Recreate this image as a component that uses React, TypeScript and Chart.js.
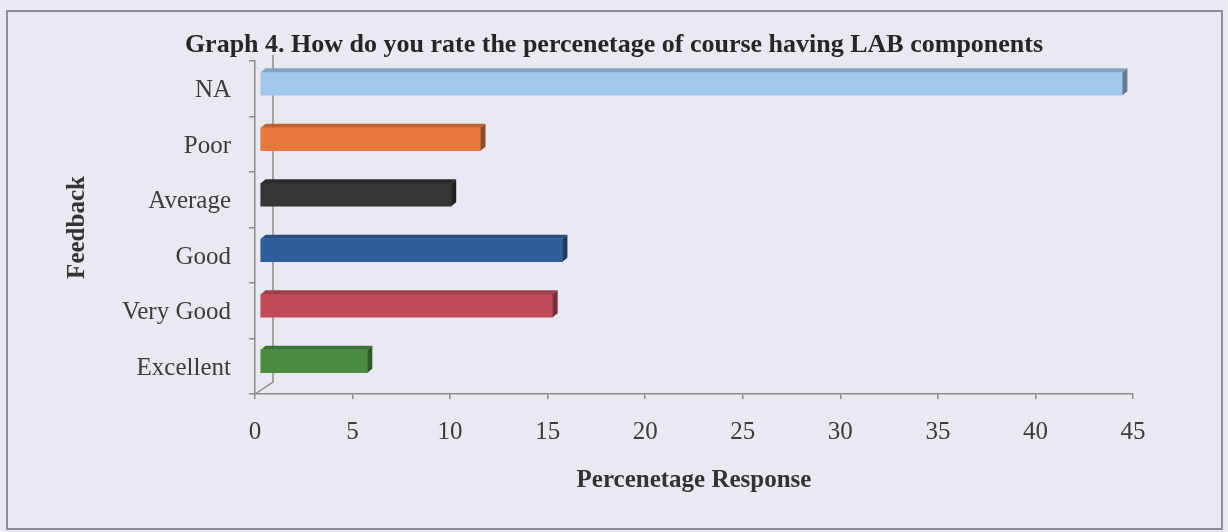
import React, { useEffect, useRef } from "react";
import { Chart, registerables } from "chart.js";

Chart.register(...registerables);

const categories = ["NA", "Poor", "Average", "Good", "Very Good", "Excellent"];
const responses = [44.2, 11.3, 9.8, 15.5, 15.0, 5.5];
const barColors = ["#a1c8ea", "#e9773e", "#363636", "#2f5d9b", "#c24b59", "#4b8c40"];
const xMin = 0;
const xMax = 45;
const xStep = 5;

const chartTitle = "Graph 4. How do you rate the percenetage of course having LAB components";
const xTitle = "Percenetage Response";
const yTitle = "Feedback";

const W = 1228;
const H = 532;
const FONT = "'Liberation Serif', 'Times New Roman', serif";
const AXIS = "#8c8c8c";
const BG = "#e9e9f2";
const DX = 5;
const DY = 4;

function shade(hex: string, f: number): string {
  const n = parseInt(hex.slice(1), 16);
  const r = Math.round(((n >> 16) & 255) * f);
  const g = Math.round(((n >> 8) & 255) * f);
  const b = Math.round((n & 255) * f);
  return `rgb(${r},${g},${b})`;
}

const depthPlugin = {
  id: "depth3d",
  beforeDraw(chart: any) {
    const ctx = chart.ctx;
    ctx.save();
    ctx.fillStyle = BG;
    ctx.fillRect(0, 0, chart.width, chart.height);
    ctx.restore();
  },
  beforeDatasetsDraw(chart: any) {
    const ctx = chart.ctx;
    const a = chart.chartArea;
    ctx.save();
    ctx.strokeStyle = AXIS;
    ctx.lineWidth = 1.5;
    ctx.beginPath();
    ctx.moveTo(a.left, a.bottom);
    ctx.lineTo(a.left + 18, a.bottom - 12);
    ctx.lineTo(a.left + 18, a.top - 6);
    ctx.stroke();
    ctx.restore();
    ctx.save();
    ctx.translate(5, -5);
  },
  afterDatasetsDraw(chart: any) {
    const ctx = chart.ctx;
    const meta = chart.getDatasetMeta(0);
    meta.data.forEach((bar: any, i: number) => {
      const p = bar.getProps(["x", "y", "base", "height"], true);
      const top = p.y - p.height / 2;
      const bottom = p.y + p.height / 2;
      const c = barColors[i];
      ctx.fillStyle = shade(c, 0.82);
      ctx.beginPath();
      ctx.moveTo(p.base, top);
      ctx.lineTo(p.base + DX, top - DY);
      ctx.lineTo(p.x + DX, top - DY);
      ctx.lineTo(p.x, top);
      ctx.closePath();
      ctx.fill();
      ctx.fillStyle = shade(c, 0.62);
      ctx.beginPath();
      ctx.moveTo(p.x, top);
      ctx.lineTo(p.x + DX, top - DY);
      ctx.lineTo(p.x + DX, bottom - DY);
      ctx.lineTo(p.x, bottom);
      ctx.closePath();
      ctx.fill();
    });
    ctx.restore();
  },
  afterDraw(chart: any) {
    const ctx = chart.ctx;
    ctx.save();
    ctx.strokeStyle = "#8e8e96";
    ctx.lineWidth = 2;
    ctx.strokeRect(7, 11, 1215, 518);
    ctx.restore();
  },
};

export default function App() {
  const ref = useRef<HTMLCanvasElement>(null);
  useEffect(() => {
    if (!ref.current) return;
    const tickFont = { family: FONT, size: 25, lineHeight: 1.2 };
    const axisTitleFont = { family: FONT, size: 25, weight: "bold" as const, lineHeight: 1.2 };
    const titleFont = { family: FONT, size: 26, weight: "bold" as const, lineHeight: 1.2 };
    const chart = new Chart(ref.current, {
      type: "bar",
      data: {
        labels: categories,
        datasets: [
          {
            data: responses,
            backgroundColor: barColors,
            borderWidth: 0,
            barThickness: 23,
          },
        ],
      },
      options: {
        indexAxis: "y",
        responsive: false,
        animation: false,
        layout: { padding: { left: 10, right: 10, top: 2, bottom: 28 } },
        plugins: {
          legend: { display: false },
          tooltip: { enabled: false },
          title: {
            display: true,
            text: chartTitle,
            font: titleFont,
            color: "#262626",
            padding: { top: 27.8, bottom: 0 },
          },
        },
        scales: {
          x: {
            type: "linear",
            min: xMin,
            max: xMax,
            ticks: { stepSize: xStep, font: tickFont, color: "#3c3c3c", padding: 18 },
            grid: { drawOnChartArea: false, drawTicks: true, tickLength: 5, color: AXIS, lineWidth: 1.5 },
            border: { display: true, color: AXIS, width: 1.5 },
            title: { display: true, text: xTitle, font: axisTitleFont, color: "#333333", padding: { top: 0, bottom: 8 } },
            afterFit(s: any) {
              s.height = 110;
            },
          },
          y: {
            type: "category",
            ticks: { font: tickFont, color: "#3c3c3c", padding: 18, labelOffset: 2 },
            grid: { drawOnChartArea: false, drawTicks: true, tickLength: 6, color: AXIS, lineWidth: 1.5, offset: true },
            border: { display: true, color: AXIS, width: 1.5 },
            title: { display: true, text: yTitle, font: axisTitleFont, color: "#333333", padding: { top: 53, bottom: 0 } },
            afterFit(s: any) {
              s.width = 245;
            },
          },
          yRight: {
            type: "linear",
            position: "right",
            display: true,
            grid: { display: false },
            ticks: { display: false },
            border: { display: false },
            afterFit(s: any) {
              s.width = 85;
            },
          },
        },
      },
      plugins: [depthPlugin],
    } as any);
    return () => chart.destroy();
  }, []);
  return (
    <div style={{ position: "absolute", left: 0, top: 0, width: W, height: H, background: BG }}>
      <canvas ref={ref} width={W} height={H} style={{ width: W, height: H, display: "block" }} />
    </div>
  );
}
